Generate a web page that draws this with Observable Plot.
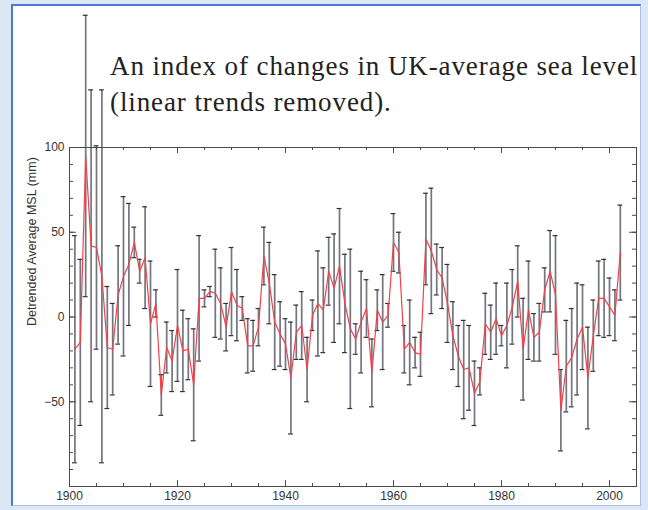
<!DOCTYPE html>
<html>
<head>
<meta charset="utf-8">
<script src="https://cdn.jsdelivr.net/npm/d3@7"></script>
<script src="https://cdn.jsdelivr.net/npm/@observablehq/plot@0.6"></script>
<style>
  html, body { margin: 0; padding: 0; }
  body { width: 648px; height: 510px; background: #dbe7f5; position: relative; overflow: hidden; }
  #panel {
    position: absolute; left: 11px; top: 4px; width: 627px; height: 499px; background: #fff;
    border-left: 2px solid #4a78d0; border-top: 2px solid #4a78d0;
    border-right: 1px solid #a9c1ea; border-bottom: 1px solid #a9c1ea;
  }
  #chart { position: absolute; left: 0; top: 0; }
  #title {
    position: absolute; left: 110px; top: 48px;
    font-family: "Liberation Serif", "DejaVu Serif", serif; font-size: 27px; letter-spacing: 0.9px;
    line-height: 36px; color: #222;
  }
</style>
</head>
<body>
<div id="panel"></div>
<div id="chart"></div>
<div id="title">An index of changes in UK-average sea level<br>(linear trends removed).</div>
<script>
// Annual UK-average mean sea level index, linear trends removed (mm), with uncertainty
const years = d3.range(1901, 2003);
const msl = [
  -19, -15, 95, 42, 41, 24, -18, -19, 13, 24,
   31, 44, 27, 35, -4, 8, -46, -18, -26, -5,
  -20, -19, -40, 11, 11, 15, 14, 8, -6, 15,
    7, 5, -17, -17, -6, 36, 20, -3, -10, -16,
  -36, -9, -5, -31, 1, 8, 4, 27, 17, 30,
    8, -7, -13, -3, 5, -33, 4, -3, 1, 44,
   38, -19, -15, -21, -22, 46, 39, 28, 23, 8,
  -11, -23, -31, -30, -45, -38, -4, -9, -1, -11,
   -5, 6, 21, -19, 4, -12, -9, 16, 27, 13,
  -55, -29, -24, -13, -6, -36, -11, 11, 11, 6,
    1, 38
];
const err = [
  67, 49, 83, 92, 60, 110, 36, 27, 29, 47,
  36, 9, 7, 30, 37, 8, 12, 15, 18, 33,
  24, 18, 33, 37, 5, 3, 26, 21, 14, 26,
  21, 7, 16, 15, 11, 17, 24, 28, 19, 15,
  33, 16, 20, 19, 9, 31, 25, 20, 32, 34,
  29, 47, 9, 30, 17, 20, 12, 28, 7, 17,
  12, 14, 25, 9, 13, 27, 37, 15, 18, 23,
  20, 18, 29, 25, 19, 8, 18, 16, 21, 6,
  25, 22, 21, 30, 29, 14, 17, 13, 24, 35,
  24, 27, 29, 33, 25, 30, 21, 22, 23, 17,
  15, 28
];

// Axis ticks and labels
const xMajor = [1900, 1920, 1940, 1960, 1980, 2000];
const xMinor = d3.range(1900, 2005, 5);
const yLabels = [-50, 0, 50, 100];
const yMajor = [-100, -50, 0, 50, 100];
const yMinor = d3.range(-100, 101, 10);
const yTitle = "Detrended Average MSL (mm)";

const data = years.map((year, i) => ({
  year, msl: msl[i], lo: msl[i] - err[i], hi: msl[i] + err[i]
}));

const W = 648, H = 510, mt = 147, mb = 24, ml = 69, mr = 12;
const iw = W - ml - mr, ih = H - mt - mb;
const axisColor = "#4a4a4a";

const chart = Plot.plot({
  width: W, height: H,
  marginTop: mt, marginBottom: mb, marginLeft: ml, marginRight: mr,
  style: {
    background: "transparent", overflow: "visible",
    fontFamily: "'Liberation Sans', Arial, sans-serif", fontSize: "12px", color: "#333"
  },
  x: { domain: [1900, 2005] },
  y: { domain: [-100, 100] },
  marks: [
    // error bars
    Plot.ruleX(data, { x: "year", y1: "lo", y2: "hi", stroke: "#73767e", strokeWidth: 1.7 }),
    Plot.ruleY(data, { y: "hi", x1: d => d.year - 0.45, x2: d => d.year + 0.45, stroke: "#333", strokeWidth: 1.2 }),
    Plot.ruleY(data, { y: "lo", x1: d => d.year - 0.45, x2: d => d.year + 0.45, stroke: "#333", strokeWidth: 1.2 }),
    // annual index
    Plot.line(data, { x: "year", y: "msl", stroke: "#f2404a", strokeWidth: 1.2 }),
    Plot.frame({ stroke: axisColor }),
    // inward ticks on all four sides
    Plot.ruleX(xMinor, { x: d => d, insetTop: ih - 3, stroke: axisColor }),
    Plot.ruleX(xMajor, { x: d => d, insetTop: ih - 6, stroke: axisColor }),
    Plot.ruleX(xMinor, { x: d => d, insetBottom: ih - 3, stroke: axisColor }),
    Plot.ruleX(xMajor, { x: d => d, insetBottom: ih - 6, stroke: axisColor }),
    Plot.ruleY(yMinor, { y: d => d, insetRight: iw - 4, stroke: axisColor }),
    Plot.ruleY(yMajor, { y: d => d, insetRight: iw - 7, stroke: axisColor }),
    Plot.ruleY(yMinor, { y: d => d, insetLeft: iw - 4, stroke: axisColor }),
    Plot.ruleY(yMajor, { y: d => d, insetLeft: iw - 7, stroke: axisColor }),
    Plot.axisX({ ticks: xMajor, tickSize: 0, tickPadding: 5, tickFormat: d => String(d), label: null }),
    Plot.axisY({ ticks: yLabels, tickSize: 0, tickPadding: 5, label: null }),
    Plot.text([yTitle], {
      text: d => d, frameAnchor: "left", dx: -38, dy: 9, rotate: -90,
      fontSize: 12.5, fill: "#333"
    })
  ]
});
document.getElementById("chart").append(chart);
</script>
</body>
</html>
